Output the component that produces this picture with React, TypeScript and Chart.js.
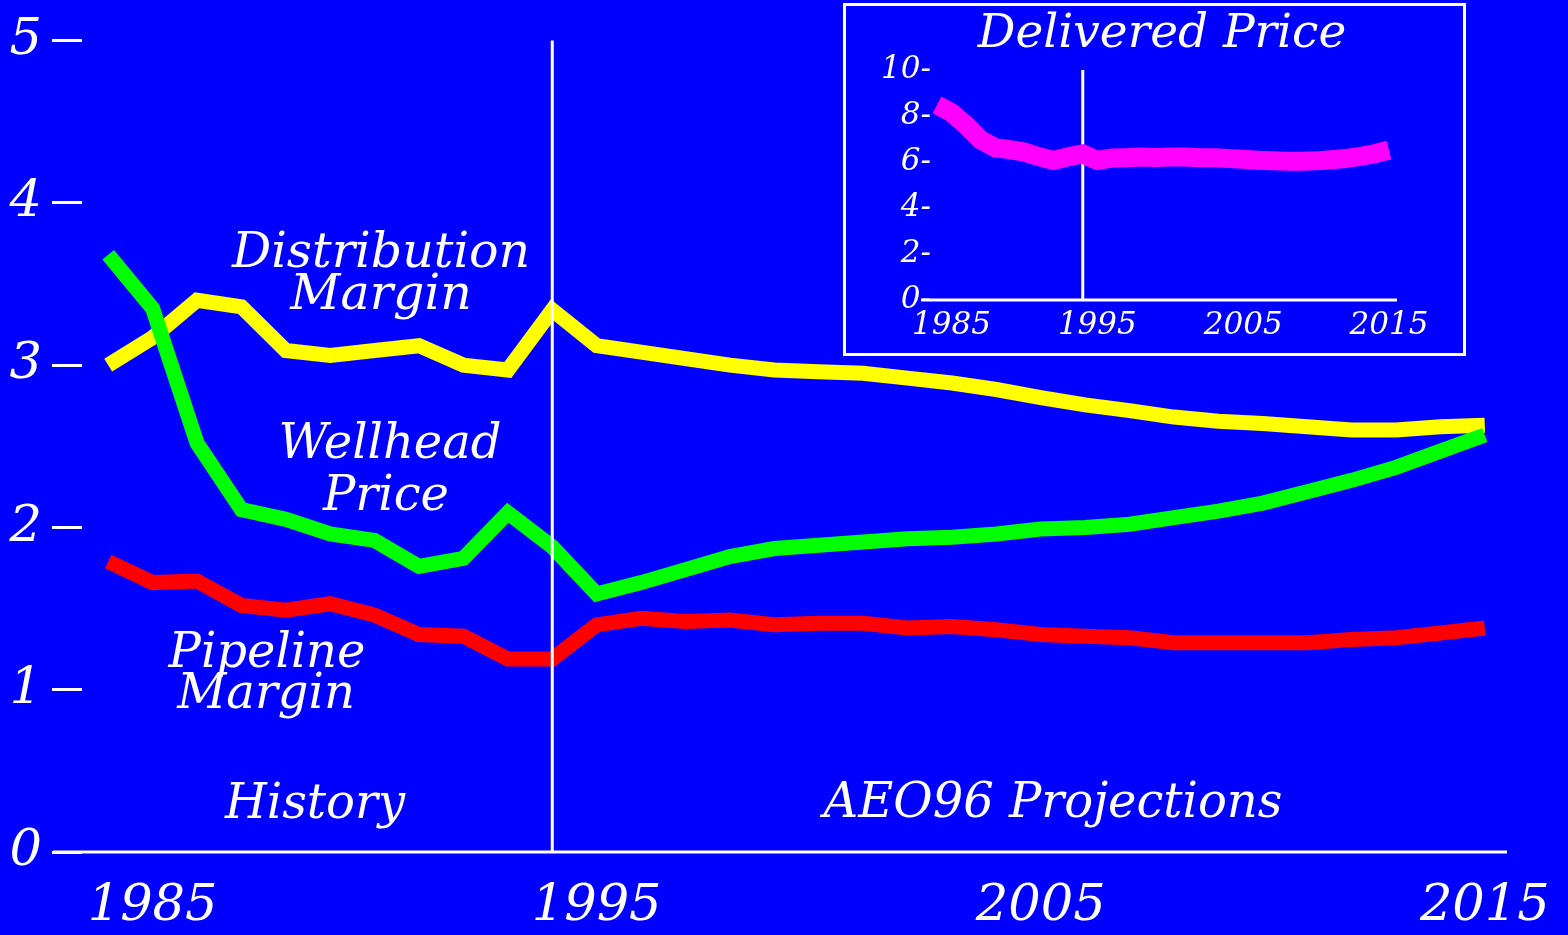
import React, { useEffect, useRef } from "react";
import { Chart, registerables } from "chart.js";

Chart.register(...registerables);

// ---------- data ----------
const years = [
  1984, 1985, 1986, 1987, 1988, 1989, 1990, 1991, 1992, 1993, 1994,
  1995, 1996, 1997, 1998, 1999, 2000, 2001, 2002, 2003, 2004,
  2005, 2006, 2007, 2008, 2009, 2010, 2011, 2012, 2013, 2014, 2015,
];

const wellheadPrice = [
  3.68, 3.35, 2.52, 2.11, 2.05, 1.96, 1.92, 1.76, 1.81, 2.09, 1.88,
  1.59, 1.66, 1.74, 1.82, 1.87, 1.89, 1.91, 1.93, 1.94, 1.96,
  1.99, 2.0, 2.02, 2.06, 2.1, 2.15, 2.22, 2.29, 2.37, 2.47, 2.57,
];

const distributionMargin = [
  3.0, 3.17, 3.4, 3.36, 3.09, 3.06, 3.09, 3.12, 3.0, 2.97, 3.34,
  3.12, 3.08, 3.04, 3.0, 2.97, 2.96, 2.95, 2.92, 2.89, 2.85,
  2.8, 2.755, 2.72, 2.68, 2.655, 2.64, 2.62, 2.6, 2.6, 2.62, 2.63,
];

const pipelineMargin = [
  1.79, 1.66, 1.67, 1.52, 1.49, 1.53, 1.46, 1.34, 1.33, 1.19, 1.19,
  1.4, 1.44, 1.42, 1.43, 1.4, 1.41, 1.41, 1.38, 1.39, 1.37,
  1.34, 1.33, 1.32, 1.29, 1.29, 1.29, 1.29, 1.31, 1.32, 1.35, 1.38,
];

const deliveredPrice = [
  8.48, 8.15, 7.6, 6.96, 6.62, 6.54, 6.43, 6.23, 6.07, 6.23, 6.35,
  6.07, 6.17, 6.19, 6.22, 6.2, 6.22, 6.22, 6.19, 6.19, 6.15,
  6.12, 6.08, 6.05, 6.03, 6.03, 6.05, 6.1, 6.15, 6.24, 6.36, 6.52,
];

const mainXTicks = [1985, 1995, 2005, 2015];
const mainYTicks = [0, 1, 2, 3, 4, 5];
const insetXTicks = [1985, 1995, 2005, 2015];
const insetYTicks = [0, 2, 4, 6, 8, 10];
const dividerYear = 1994;

const annotations = [
  { text: "Distribution", x: 381, y: 267, size: 49 },
  { text: "Margin", x: 381, y: 309, size: 49 },
  { text: "Wellhead", x: 390, y: 458, size: 48 },
  { text: "Price", x: 386, y: 510, size: 48 },
  { text: "Pipeline", x: 267, y: 667, size: 48 },
  { text: "Margin", x: 266, y: 708, size: 48 },
  { text: "History", x: 315, y: 818, size: 48 },
  { text: "AEO96 Projections", x: 1053, y: 817, size: 48 },
];

const insetAnnotations = [{ text: "Delivered Price", x: 316, y: 41, size: 47 }];

// ---------- style ----------
const BLUE = "#0000ff";
const WHITE = "#ffffff";
const FAMILY = "'DejaVu Serif', serif";

const bgPlugin = {
  id: "bgFill",
  beforeDraw(chart: any) {
    const ctx = chart.ctx;
    ctx.save();
    ctx.fillStyle = BLUE;
    ctx.fillRect(0, 0, chart.width, chart.height);
    ctx.restore();
  },
};

function drawDivider(chart: any) {
  const o = chart.options.plugins.guides;
  const xs = chart.scales.x;
  const ys = chart.scales.y;
  const ctx = chart.ctx;
  const x = xs.getPixelForValue(dividerYear);
  ctx.save();
  ctx.strokeStyle = WHITE;
  ctx.lineWidth = o.width;
  ctx.beginPath();
  ctx.moveTo(x, ys.getPixelForValue(ys.max));
  ctx.lineTo(x, ys.getPixelForValue(0));
  ctx.stroke();
  ctx.restore();
}

const guidesPlugin = {
  id: "guides",
  beforeDatasetsDraw(chart: any) {
    const o = chart.options.plugins.guides;
    if (!o.onTop) drawDivider(chart);
  },
  afterDatasetsDraw(chart: any) {
    const o = chart.options.plugins.guides;
    if (o.onTop) drawDivider(chart);
    const ys = chart.scales.y;
    const ctx = chart.ctx;
    const y = ys.getPixelForValue(0);
    ctx.save();
    ctx.strokeStyle = WHITE;
    ctx.lineWidth = o.width;
    ctx.beginPath();
    ctx.moveTo(chart.chartArea.left - o.ext, y);
    ctx.lineTo(chart.chartArea.right, y);
    ctx.stroke();
    ctx.restore();
  },
};

const annotationPlugin = {
  id: "labels",
  afterDraw(chart: any) {
    const items = chart.options.plugins.labels?.items || [];
    const ctx = chart.ctx;
    ctx.save();
    ctx.fillStyle = WHITE;
    ctx.textAlign = "center";
    ctx.textBaseline = "alphabetic";
    for (const a of items) {
      ctx.font = `italic ${a.size}px ${FAMILY}`;
      ctx.fillText(a.text, a.x, a.y);
    }
    ctx.restore();
  },
};

function lineDs(label: string, data: number[], color: string, width: number) {
  return {
    label,
    data: years.map((yr, i) => ({ x: yr, y: data[i] })),
    borderColor: color,
    backgroundColor: color,
    borderWidth: width,
    pointRadius: 0,
    tension: 0,
    borderJoinStyle: "miter" as const,
    borderCapStyle: "butt" as const,
    fill: false,
  };
}

export default function App() {
  const mainRef = useRef<HTMLCanvasElement>(null);
  const insetRef = useRef<HTMLCanvasElement>(null);

  useEffect(() => {
    document.body.style.margin = "0";
    document.body.style.background = BLUE;

    const bigFont = { family: FAMILY, size: 51, style: "italic" as const, weight: "normal" as const };
    const smallFont = { family: FAMILY, size: 31, style: "italic" as const, weight: "normal" as const };

    const main = new Chart(mainRef.current!, {
      type: "line",
      data: {
        datasets: [
          lineDs("Wellhead Price", wellheadPrice, "#00ff00", 15),
          lineDs("Distribution Margin", distributionMargin, "#ffff00", 15),
          lineDs("Pipeline Margin", pipelineMargin, "#ff0000", 15),
        ],
      },
      options: {
        animation: false,
        responsive: false,
        events: [],
        layout: { padding: { top: 40, right: 61, bottom: 0, left: 0 } },
        plugins: {
          legend: { display: false },
          tooltip: { enabled: false },
          title: { display: false },
          guides: { ext: 29, width: 3, onTop: true },
          labels: { items: annotations },
        } as any,
        scales: {
          x: {
            type: "linear",
            min: 1983.41,
            max: 2015.5,
            grid: { display: false, drawTicks: false },
            border: { display: false },
            afterBuildTicks: (s: any) => {
              s.ticks = mainXTicks.map((v) => ({ value: v }));
            },
            afterFit: (s: any) => {
              s.height = 83;
              s.paddingLeft = 0;
              s.paddingRight = 0;
            },
            ticks: {
              color: WHITE,
              font: bigFont,
              padding: 24,
              maxRotation: 0,
              autoSkip: false,
              callback: (v: any) => String(v),
            },
          },
          y: {
            type: "linear",
            min: 0,
            max: 5,
            grid: {
              display: true,
              drawOnChartArea: false,
              drawTicks: true,
              tickLength: 30,
              color: WHITE,
              lineWidth: 3,
            },
            border: { display: false },
            afterBuildTicks: (s: any) => {
              s.ticks = mainYTicks.map((v) => ({ value: v }));
            },
            afterFit: (s: any) => {
              s.width = 82;
            },
            ticks: {
              color: WHITE,
              font: bigFont,
              padding: 10,
              callback: (v: any) => String(v),
            },
          },
        },
      },
      plugins: [bgPlugin, guidesPlugin, annotationPlugin],
    });

    const inset = new Chart(insetRef.current!, {
      type: "line",
      data: {
        datasets: [lineDs("Delivered Price", deliveredPrice, "#ff00ff", 19)],
      },
      options: {
        animation: false,
        responsive: false,
        events: [],
        layout: { padding: { top: 64, right: 66, bottom: 0, left: 0 } },
        plugins: {
          legend: { display: false },
          tooltip: { enabled: false },
          title: { display: false },
          guides: { ext: 12, width: 3, onTop: false },
          labels: { items: insetAnnotations },
        } as any,
        scales: {
          x: {
            type: "linear",
            min: 1983.73,
            max: 2015.55,
            grid: { display: false, drawTicks: false },
            border: { display: false },
            afterBuildTicks: (s: any) => {
              s.ticks = insetXTicks.map((v) => ({ value: v }));
            },
            afterFit: (s: any) => {
              s.height = 53;
              s.paddingLeft = 0;
              s.paddingRight = 0;
            },
            ticks: {
              color: WHITE,
              font: smallFont,
              padding: 7,
              maxRotation: 0,
              autoSkip: false,
              callback: (v: any) => String(v),
            },
          },
          y: {
            type: "linear",
            min: 0,
            max: 10,
            grid: { display: false, drawTicks: false },
            border: { display: false },
            afterBuildTicks: (s: any) => {
              s.ticks = insetYTicks.map((v) => ({ value: v }));
            },
            afterFit: (s: any) => {
              s.width = 87;
            },
            ticks: {
              color: WHITE,
              font: smallFont,
              padding: 2,
              callback: (v: any) => `${v}-`,
            },
          },
        },
      },
      plugins: [bgPlugin, guidesPlugin, annotationPlugin],
    });

    return () => {
      main.destroy();
      inset.destroy();
    };
  }, []);

  return (
    <div
      style={{
        position: "fixed",
        left: 0,
        top: 0,
        width: 1568,
        height: 935,
        background: BLUE,
        overflow: "hidden",
      }}
    >
      <canvas
        ref={mainRef}
        width={1568}
        height={935}
        style={{ position: "absolute", left: 0, top: 0, display: "block" }}
      />
      <div
        style={{
          position: "absolute",
          left: 843,
          top: 3,
          width: 623,
          height: 353,
          border: "3px solid #ffffff",
          boxSizing: "border-box",
          background: BLUE,
        }}
      >
        <canvas
          ref={insetRef}
          width={617}
          height={347}
          style={{ position: "absolute", left: 0, top: 0, display: "block" }}
        />
      </div>
    </div>
  );
}
